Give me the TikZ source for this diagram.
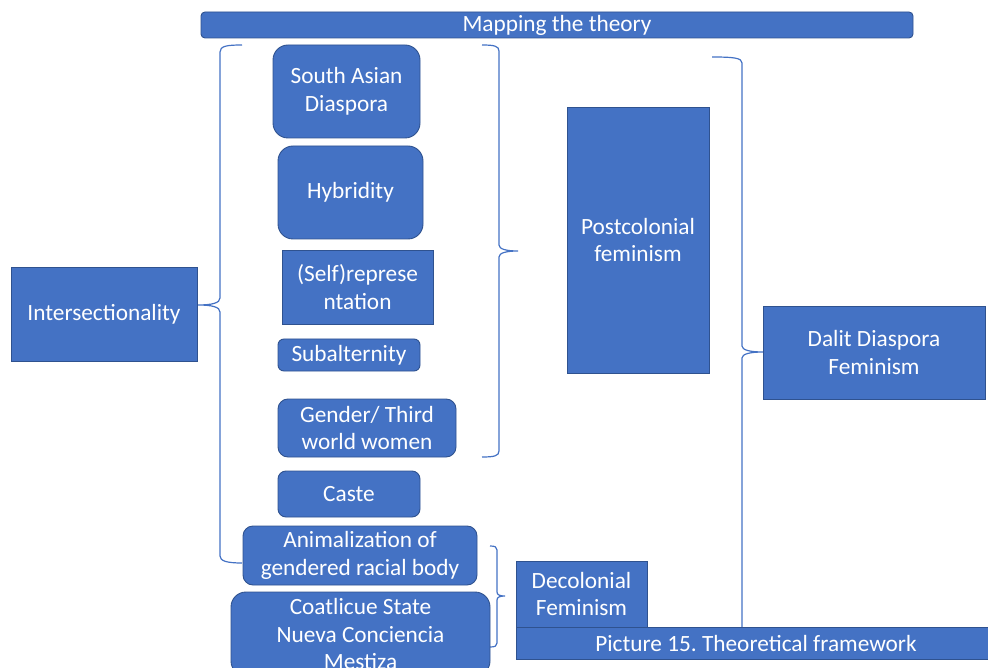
\documentclass[tikz,border=0pt]{standalone}
\usepackage{fontspec}
\setmainfont{Carlito}
\definecolor{officeblue}{HTML}{4472C4}
\definecolor{officeedge}{HTML}{2F528F}
\begin{document}
\begin{tikzpicture}[x=1pt,y=-1pt,
  box/.style={draw=officeedge, line width=0.9pt, fill=officeblue, text=white,
    align=center, inner sep=0pt, font=\fontsize{23.3}{27.6}\selectfont},
  rbox/.style={box, rounded corners=#1},
  brace line/.style={draw=officeblue, line width=1.2pt}]
\useasboundingbox (0,0) rectangle (988,668);
\clip (0,0) rectangle (988,668);

% braces (drawn first so boxes sit on top)
\coordinate (tipL) at (198,305);
\draw[brace line] (242,45) .. controls (227,45) and (220,46) .. (220,52) -- (220,298)
  .. controls (220,303) and (212,305) .. (tipL)
  .. controls (212,305) and (220,307) .. (220,312) -- (220,556)
  .. controls (220,561) and (227,563) .. (242,563);
\coordinate (tipP) at (518,251);
\draw[brace line] (482,45) .. controls (494,45) and (499,46) .. (499,51) -- (499,245)
  .. controls (499,249) and (506,251) .. (tipP)
  .. controls (506,251) and (499,253) .. (499,257) -- (499,451)
  .. controls (499,456) and (494,457) .. (482,457);
\coordinate (tipD) at (763,352);
\draw[brace line] (712,57) .. controls (734,57) and (742,58) .. (742,63) -- (742,346)
  .. controls (742,350) and (750,352) .. (tipD)
  .. controls (750,352) and (742,354) .. (742,358) -- (742,640);
\coordinate (tipC) at (505,596);
\draw[brace line] (490,546) .. controls (495,546) and (497,547) .. (497,550) -- (497,592)
  .. controls (497,595) and (500,596) .. (tipC)
  .. controls (500,596) and (497,597) .. (497,600) -- (497,643)
  .. controls (497,646) and (495,647) .. (490,647);

% title
\node[rbox=4pt, minimum width=712, minimum height=26] (title) at (557,25) {Mapping the theory};

% left column
\node[box, minimum width=186, minimum height=94] (inter) at (104,314) {Intersectionality};

% middle column
\node[rbox=15pt, minimum width=147, minimum height=93] (sad) at (346.5,91.5) {South Asian\\Diaspora};
\node[rbox=15pt, minimum width=145, minimum height=93] (hyb) at (350.5,192.5) {Hybridity};
\node[box, minimum width=151, minimum height=74] (selfrep) at (357.5,287) {(Self)represe\\ntation};
\node[rbox=6pt, minimum width=142, minimum height=32] (sub) at (349,355) {Subalternity};
\node[rbox=10pt, minimum width=178, minimum height=58] (gender) at (367,428) {Gender/ Third\\world women};
\node[rbox=8pt, minimum width=142, minimum height=46] (caste) at (349,494) {Caste};
\node[rbox=10pt, minimum width=234, minimum height=59] (anim) at (360,555.5) {Animalization of\\gendered racial body};
\node[rbox=15pt, minimum width=259, minimum height=84] (coat) at (360.5,634) {Coatlicue State\\Nueva Conciencia\\Mestiza};

% right side
\node[box, minimum width=142, minimum height=266] (postcol) at (638,240) {Postcolonial\\feminism};
\node[box, minimum width=222, minimum height=93] (dalit) at (874,352.5) {Dalit Diaspora\\Feminism};
\node[box, minimum width=131, minimum height=66] (decol) at (581.5,594) {Decolonial\\Feminism};
\node[box, minimum width=480, minimum height=32] (caption) at (756,643) {Picture 15.\ Theoretical framework};
\end{tikzpicture}
\end{document}
